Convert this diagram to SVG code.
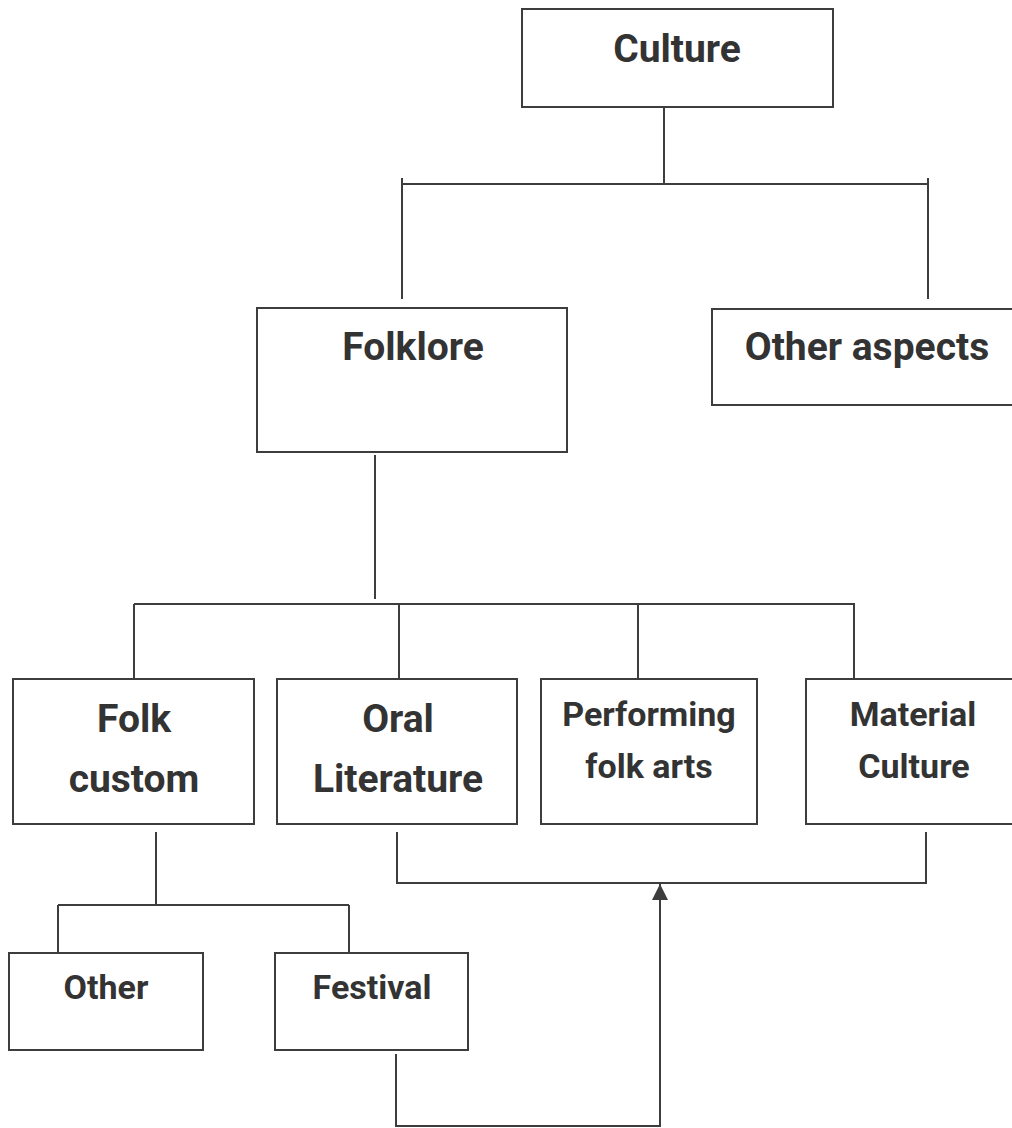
<svg xmlns="http://www.w3.org/2000/svg" width="1012" height="1128" viewBox="0 0 1012 1128">
<defs>
<style>
.box{fill:#fff;stroke:#3d3d3d;stroke-width:2}
.ln{fill:none;stroke:#3d3d3d;stroke-width:2}
.t{font-family:Roboto,"Liberation Sans",sans-serif;font-weight:700;fill:#333;text-anchor:middle}
.lg{font-size:39px}
.sm{font-size:34px}
</style>
<marker id="arr" viewBox="0 0 16 16" refX="16" refY="8" markerWidth="16" markerHeight="16" markerUnits="userSpaceOnUse" orient="auto">
<path d="M0,0 L16,8 L0,16 Z" fill="#3d3d3d"/>
</marker>
</defs>
<rect width="1012" height="1128" fill="#fff"/>
<g id="connectors">
<path class="ln" d="M664,107 V184 M402,184 H928 M402,178 V299 M928,178 V299"/>
<path class="ln" d="M375,455 V599 M134,604 H855 M134,604 V679 M399,604 V679 M638,604 V679 M854,604 V679"/>
<path class="ln" d="M156,832 V905 M58,905 H349 M58,905 V953 M349,905 V953"/>
<path class="ln" d="M397,832 V883 H926 V832"/>
<path class="ln" d="M396,1054 V1126 H660 V884" marker-end="url(#arr)"/>
</g>
<g id="culture"><rect class="box" x="522" y="9" width="311" height="98"/><text class="t lg" x="677" y="62">Culture</text></g>
<g id="folklore"><rect class="box" x="257" y="308" width="310" height="144"/><text class="t lg" x="413" y="360">Folklore</text></g>
<g id="other-aspects"><rect class="box" x="712" y="309" width="320" height="96"/><text class="t lg" x="867" y="360">Other aspects</text></g>
<g id="folk-custom"><rect class="box" x="13" y="679" width="241" height="145"/><text class="t lg" x="134" y="732">Folk</text><text class="t lg" x="134" y="792">custom</text></g>
<g id="oral-literature"><rect class="box" x="277" y="679" width="240" height="145"/><text class="t lg" x="398" y="732">Oral</text><text class="t lg" x="398" y="792">Literature</text></g>
<g id="performing-folk-arts"><rect class="box" x="541" y="679" width="216" height="145"/><text class="t sm" x="649" y="726">Performing</text><text class="t sm" x="649" y="778">folk arts</text></g>
<g id="material-culture"><rect class="box" x="806" y="679" width="220" height="145"/><text class="t sm" x="913" y="726">Material</text><text class="t sm" x="914" y="778">Culture</text></g>
<g id="other"><rect class="box" x="9" y="953" width="194" height="97"/><text class="t sm" x="106" y="999">Other</text></g>
<g id="festival"><rect class="box" x="275" y="953" width="193" height="97"/><text class="t sm" x="372" y="999">Festival</text></g>
</svg>
